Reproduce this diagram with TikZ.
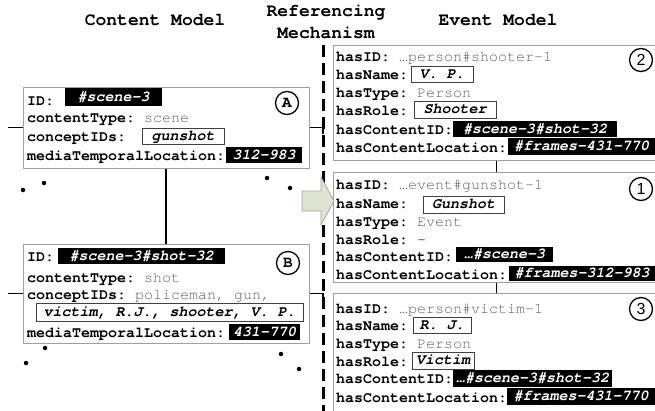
\documentclass[tikz,border=0pt]{standalone}
\usepackage{fontspec}
\setmonofont{TeX Gyre Cursor}
\newfontfamily\lsans{Liberation Sans}
\definecolor{valgray}{HTML}{606060}
\definecolor{boxgray}{HTML}{A0A0A0}
\definecolor{arrowfill}{HTML}{DDE5D0}
\newcommand\mono{\ttfamily\fontsize{15}{18}\selectfont}
\newcommand\hfont{\ttfamily\bfseries\fontsize{18}{22}\selectfont}
\begin{document}
\begin{tikzpicture}[x=1pt,y=-1pt,
  cbox/.style={draw=boxgray, line width=1pt, inner sep=0pt},
  rt/.style={anchor=base west, inner sep=0pt, font=\mono},
  blk/.style={fill=black, text=white, font=\mono\bfseries\itshape, inner sep=0pt, text height=11pt, text depth=3pt},
  obox/.style={draw=black!75, line width=0.9pt, font=\mono\bfseries\itshape, inner sep=0pt, text height=11pt, text depth=3pt},
  tag/.style={circle, draw=black, line width=1.3pt, minimum size=23pt, inner sep=0pt},
  conn/.style={draw=black, line width=1.3pt},
  dot/.style={circle, fill=black, inner sep=0pt, minimum size=4.5pt},
  head/.style={font=\hfont, align=center, inner sep=0pt}]
\useasboundingbox (0,0) rectangle (655,410);
\fill[white] (0,0) rectangle (655,410);
\clip (0,0) rectangle (655,410);

% headings
\node[head] (h1) at (155,20) {Content Model};
\node[head] (h2) at (326,22) {Referencing\\Mechanism};
\node[head] (h3) at (498,20) {Event Model};

% dashed referencing line
\coordinate (dtop) at (323,45);
\coordinate (dbot) at (323,414);
\draw[line width=3pt, dash pattern=on 12pt off 6pt] (dtop) -- (dbot);

% content boxes
\node[cbox, minimum width=286, minimum height=81] (boxA) at (166,127.5) {};
\node[cbox, minimum width=286, minimum height=99] (boxB) at (166,293.5) {};

% event boxes
\node[cbox, minimum width=327, minimum height=115] (e2) at (496.5,102.5) {};
\node[cbox, minimum width=327, minimum height=110] (e1) at (496.5,227) {};
\node[cbox, minimum width=327, minimum height=121] (e3) at (496.5,353.5) {};

% connectors
\coordinate (lA) at (8,127.5);
\coordinate (rA) at (323,134);
\coordinate (lB) at (8,293.5);
\coordinate (rB) at (323,300);
\draw[conn] (boxA.west) -- (lA);
\draw[conn] (boxA.east) -| (rA);
\draw[conn] (boxB.west) -- (lB);
\draw[conn] (boxB.east) -| (rB);
\draw[conn] (boxA.south) -- (boxB.north);
\draw[conn] (e2.south) -- (e1.north);
\draw[conn] (e1.south) -- (e3.north);

% block arrow
\draw[draw=gray!70, fill=arrowfill, line width=0.8pt] (302,191) -- (321,191) -- (321,177) -- (334,201) -- (321,225) -- (321,211) -- (302,211) -- cycle;

% box A
\node[rt] (aID) at (27,105) {\textbf{ID:}};
\node[blk, minimum width=97, minimum height=18] (aIDv) at (113.5,97) {\#scene-3};
\node[rt] (aCT) at (27,122) {\textbf{contentType:} \textcolor{valgray}{scene}};
\node[rt] (aCI) at (27,141) {\textbf{conceptIDs:}};
\node[obox, minimum width=82, minimum height=16] (aCIv) at (183,136) {gunshot};
\node[rt] (aML) at (27,160) {\textbf{mediaTemporalLocation:}};
\node[blk, minimum width=76, minimum height=16] (aMLv) at (264,155) {312-983};
\node[tag, font=\ttfamily\bfseries\fontsize{16}{16}\selectfont] (tA) at (287,103) {A};

% box B
\node[rt] (bID) at (27,261) {\textbf{ID:}};
\node[blk, minimum width=167, minimum height=16] (bIDv) at (141.5,256) {\#scene-3\#shot-32};
\node[rt] (bCT) at (27,282) {\textbf{contentType:} \textcolor{valgray}{shot}};
\node[rt] (bCI) at (27,299) {\textbf{conceptIDs:} \textcolor{valgray}{policeman, gun,}};
\node[obox, minimum width=267, minimum height=18] (bCIv) at (169.5,312) {victim, R.J., shooter, V. P.};
\node[rt] (bML) at (27,337) {\textbf{mediaTemporalLocation:}};
\node[blk, minimum width=71, minimum height=16] (bMLv) at (264.5,332) {431-770};
\node[tag, font=\ttfamily\bfseries\fontsize{16}{16}\selectfont] (tB) at (288,263) {B};

% event 2
\node[rt] (e2id) at (336,61) {\textbf{hasID:} \textcolor{valgray}{…person\#shooter-1}};
\node[rt] (e2nm) at (336,79) {\textbf{hasName:}};
\node[obox, minimum width=62, minimum height=16] (e2nmv) at (442,74) {V. P.};
\node[rt] (e2ty) at (336,97) {\textbf{hasType:} \textcolor{valgray}{Person}};
\node[rt] (e2rl) at (336,115) {\textbf{hasRole:}};
\node[obox, minimum width=82, minimum height=17] (e2rlv) at (455,109.5) {Shooter};
\node[rt] (e2ci) at (336,134) {\textbf{hasContentID:}};
\node[blk, minimum width=164, minimum height=16] (e2civ) at (535,129) {\#scene-3\#shot-32};
\node[rt] (e2cl) at (336,152) {\textbf{hasContentLocation:}};
\node[blk, minimum width=147, minimum height=17] (e2clv) at (581.5,146.5) {\#frames-431-770};
\node[tag, font=\lsans\fontsize{16}{16}\selectfont] (t2) at (641,60) {2};

% event 1
\node[rt] (e1id) at (336,189) {\textbf{hasID:} \textcolor{valgray}{…event\#gunshot-1}};
\node[rt] (e1nm) at (336,208) {\textbf{hasName:}};
\node[obox, minimum width=81, minimum height=17] (e1nmv) at (463.5,204.5) {Gunshot};
\node[rt] (e1ty) at (336,226) {\textbf{hasType:} \textcolor{valgray}{Event}};
\node[rt] (e1rl) at (336,244) {\textbf{hasRole:} -};
\node[rt] (e1ci) at (336,261) {\textbf{hasContentID:}};
\node[blk, minimum width=97, minimum height=15] (e1civ) at (504.5,254.5) {…\#scene-3};
\node[rt] (e1cl) at (336,279) {\textbf{hasContentLocation:}};
\node[blk, minimum width=146, minimum height=15] (e1clv) at (582,273.5) {\#frames-312-983};
\node[tag, font=\lsans\fontsize{16}{16}\selectfont] (t1) at (641,189) {1};

% event 3
\node[rt] (e3id) at (336,313) {\textbf{hasID:} \textcolor{valgray}{…person\#victim-1}};
\node[rt] (e3nm) at (336,330) {\textbf{hasName:}};
\node[obox, minimum width=58, minimum height=16] (e3nmv) at (442,325) {R. J.};
\node[rt] (e3ty) at (336,348) {\textbf{hasType:} \textcolor{valgray}{Person}};
\node[rt] (e3rl) at (336,366) {\textbf{hasRole:}};
\node[obox, minimum width=62, minimum height=17] (e3rlv) at (443,360.5) {Victim};
\node[rt] (e3ci) at (336,383) {\textbf{hasContentID:}};
\node[blk, minimum width=159, minimum height=17] (e3civ) at (532.5,378.5) {…\#scene-3\#shot-32};
\node[rt] (e3cl) at (336,402) {\textbf{hasContentLocation:}};
\node[blk, minimum width=148, minimum height=17] (e3clv) at (581,396.5) {\#frames-431-770};
\node[tag, font=\lsans\fontsize{16}{16}\selectfont] (t3) at (641,309) {3};

% dots
\node[dot] (d1) at (23,190) {};
\node[dot] (d2) at (44,183) {};
\node[dot] (d3) at (267,178) {};
\node[dot] (d4) at (290,188) {};
\node[dot] (d5) at (45,348) {};
\node[dot] (d6) at (26,363) {};
\node[dot] (d7) at (281,354) {};
\node[dot] (d8) at (299,369) {};
\end{tikzpicture}
\end{document}
